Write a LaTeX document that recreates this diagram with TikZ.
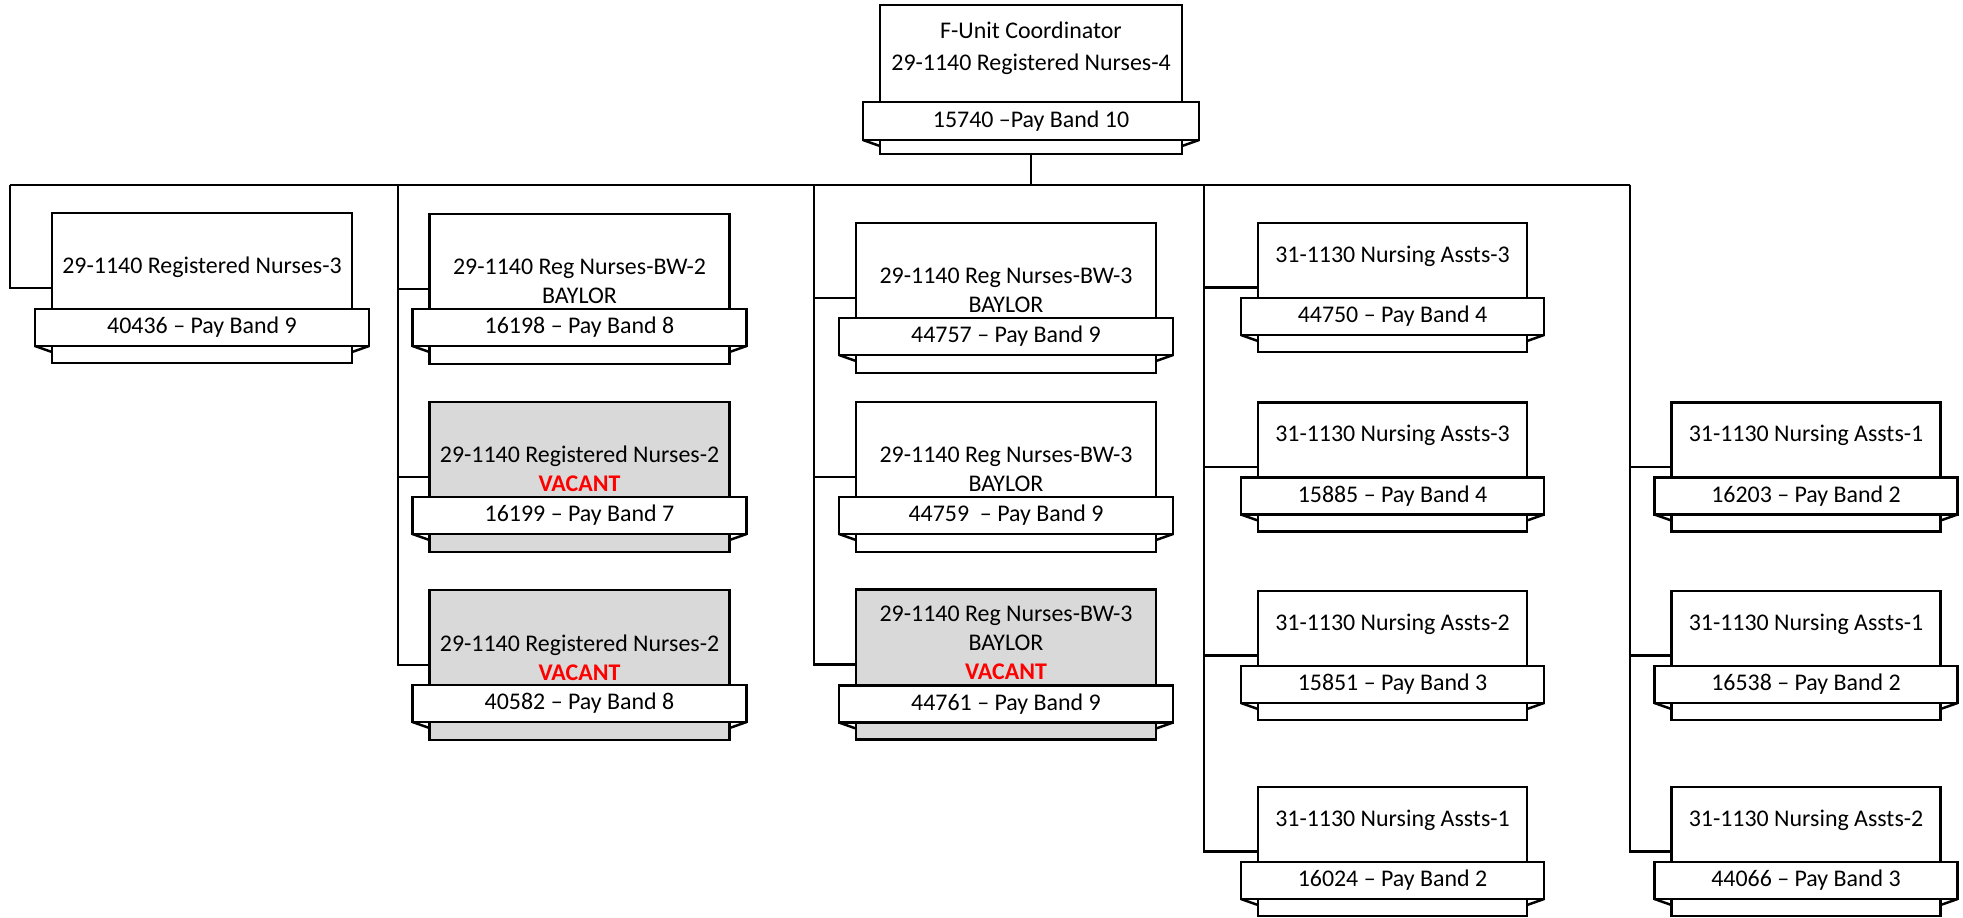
\documentclass[tikz,border=0pt]{standalone}
\usepackage{fontspec}
\setmainfont{Carlito}
\definecolor{vacgray}{HTML}{D9D9D9}
\definecolor{vacred}{HTML}{FF0000}
\newcommand{\vacant}{\textcolor{vacred}{\textbf{VACANT}}}

\begin{document}
\begin{tikzpicture}[x=0.01cm,y=-0.01cm,
    every node/.style={font=\fontsize{6.8}{8.2}\selectfont},
    job/.style={draw,line width=0.7pt,inner sep=0pt,minimum width=3cm,minimum height=1.5cm},
    vacjob/.style={job,fill=vacgray},
    smalljob/.style={job,minimum width=2.69cm,minimum height=1.29cm},
    band/.style={draw,line width=0.7pt,fill=white,inner sep=0pt,outer sep=0pt,minimum width=3.34cm,minimum height=0.37cm},
    smallband/.style={band,minimum width=3.03cm},
    jobtext/.style={align=center,inner sep=0pt},
    link/.style={line width=0.7pt}]
    \path[fill=white] (0,0) rectangle (1963,917);

    % top position
    \node[job,minimum width=3.02cm,minimum height=1.49cm] (coord) at (1031,79.5) {};
    \node[jobtext] at (1031,48.5) {F-Unit Coordinator\\[1pt]29-1140 Registered Nurses-4};
    \node[band,minimum width=3.36cm,minimum height=0.38cm] (coordb) at (1031,121) {15740 –Pay Band 10};

    % bus
    \coordinate (busw) at (10,185);
    \coordinate (bus2) at (398,185);
    \coordinate (bus3) at (814,185);
    \coordinate (bus4) at (1204,185);
    \coordinate (bus5) at (1630,185);
    \draw[link] (coord.south) -- (coord.south |- busw);
    \draw[link] (busw) -- (bus5);

    % column 1
    \node[job] (rn3) at (202,288) {};
    \node[jobtext] at (202,267) {29-1140 Registered Nurses-3};
    \node[band] (rn3b) at (202,327.5) {40436 – Pay Band 9};

    % column 2
    \node[job] (bw2) at (579.5,289) {};
    \node[jobtext] at (579.5,281.5) {29-1140 Reg Nurses-BW-2\\BAYLOR};
    \node[band] (bw2b) at (579.5,327.5) {16198 – Pay Band 8};
    \node[vacjob] (rn2a) at (579.5,477) {};
    \node[jobtext] at (579.5,469) {29-1140 Registered Nurses-2\\\vacant};
    \node[band] (rn2ab) at (579.5,515.5) {16199 – Pay Band 7};
    \node[vacjob] (rn2b) at (579.5,665) {};
    \node[jobtext] at (579.5,657.5) {29-1140 Registered Nurses-2\\\vacant};
    \node[band] (rn2bb) at (579.5,703.5) {40582 – Pay Band 8};

    % column 3
    \node[job] (bw3a) at (1006,298) {};
    \node[jobtext] at (1006,290.5) {29-1140 Reg Nurses-BW-3\\BAYLOR};
    \node[band] (bw3ab) at (1006,336.5) {44757 – Pay Band 9};
    \node[job] (bw3b) at (1006,477) {};
    \node[jobtext] at (1006,469.5) {29-1140 Reg Nurses-BW-3\\BAYLOR};
    \node[band] (bw3bb) at (1006,515.5) {44759\ \ – Pay Band 9};
    \node[vacjob] (bw3c) at (1006,664.5) {};
    \node[jobtext] at (1006,643) {29-1140 Reg Nurses-BW-3\\BAYLOR\\\vacant};
    \node[band] (bw3cb) at (1006,704) {44761 – Pay Band 9};

    % column 4
    \node[smalljob] (na3a) at (1392.5,287.5) {};
    \node[jobtext] at (1392.5,256) {31-1130 Nursing Assts-3};
    \node[smallband] (na3ab) at (1392.5,316.5) {44750 – Pay Band 4};
    \node[smalljob] (na3b) at (1392.5,467) {};
    \node[jobtext] at (1392.5,435.5) {31-1130 Nursing Assts-3};
    \node[smallband] (na3bb) at (1392.5,496) {15885 – Pay Band 4};
    \node[smalljob] (na2a) at (1392.5,655.5) {};
    \node[jobtext] at (1392.5,624) {31-1130 Nursing Assts-2};
    \node[smallband] (na2ab) at (1392.5,684.5) {15851 – Pay Band 3};
    \node[smalljob] (na1a) at (1392.5,851.5) {};
    \node[jobtext] at (1392.5,820) {31-1130 Nursing Assts-1};
    \node[smallband] (na1ab) at (1392.5,880.5) {16024 – Pay Band 2};

    % column 5
    \node[smalljob] (na1b) at (1806,467) {};
    \node[jobtext] at (1806,435.5) {31-1130 Nursing Assts-1};
    \node[smallband] (na1bb) at (1806,496) {16203 – Pay Band 2};
    \node[smalljob] (na1c) at (1806,655.5) {};
    \node[jobtext] at (1806,624) {31-1130 Nursing Assts-1};
    \node[smallband] (na1cb) at (1806,684.5) {16538 – Pay Band 2};
    \node[smalljob] (na2b) at (1806,851.5) {};
    \node[jobtext] at (1806,820) {31-1130 Nursing Assts-2};
    \node[smallband] (na2bb) at (1806,880.5) {44066 – Pay Band 3};

    % folded band ends
    \foreach \b in {coordb,rn3b,bw2b,rn2ab,rn2bb,bw3ab,bw3bb,bw3cb,na3ab,na3bb,na2ab,na1ab,na1bb,na1cb,na2bb}
        \draw[line width=0.7pt] (\b.south west) -- ++(17,6) (\b.south east) -- ++(-17,6);

    % links
    \draw[link] (busw) |- (rn3.west);
    \draw[link] (bus2) |- (bw2.west);
    \draw[link] (bus2) |- (rn2a.west);
    \draw[link] (bus2) |- (rn2b.west);
    \draw[link] (bus3) |- (bw3a.west);
    \draw[link] (bus3) |- (bw3b.west);
    \draw[link] (bus3) |- (bw3c.west);
    \draw[link] (bus4) |- (na3a.west);
    \draw[link] (bus4) |- (na3b.west);
    \draw[link] (bus4) |- (na2a.west);
    \draw[link] (bus4) |- (na1a.west);
    \draw[link] (bus5) |- (na1b.west);
    \draw[link] (bus5) |- (na1c.west);
    \draw[link] (bus5) |- (na2b.west);
\end{tikzpicture}
\end{document}
